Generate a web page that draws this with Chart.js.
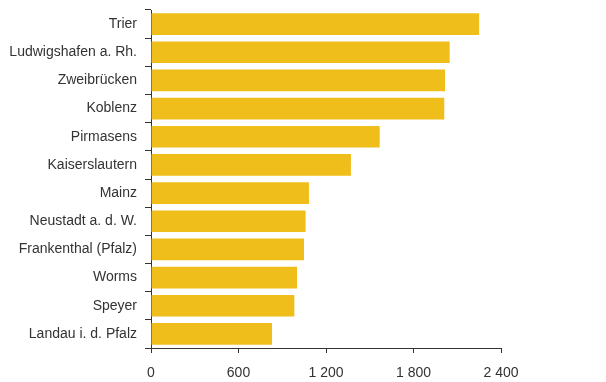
<!DOCTYPE html>
<html>
<head>
<meta charset="utf-8">
<script src="https://cdn.jsdelivr.net/npm/chart.js@4"></script>
<style>
html,body{margin:0;padding:0;background:#fff;}
#wrap{width:606px;height:382px;position:relative;}
</style>
</head>
<body>
<div id="wrap"><canvas id="c" width="606" height="382"></canvas></div>
<script>
const categories = ["Trier","Ludwigshafen a. Rh.","Zweibrücken","Koblenz","Pirmasens","Kaiserslautern","Mainz","Neustadt a. d. W.","Frankenthal (Pfalz)","Worms","Speyer","Landau i. d. Pfalz"];
const values = [2250,2048,2016,2011,1568,1371,1083,1060,1049,1001,983,830];
const xTicks = [0,600,1200,1800,2400];

const textColor = '#333333';
const axisColor = '#333333';

new Chart(document.getElementById('c'), {
  type: 'bar',
  data: {
    labels: categories,
    datasets: [{
      data: values,
      backgroundColor: '#F0BE1A',
      borderWidth: 0,
      categoryPercentage: 1,
      barPercentage: 0.77
    }]
  },
  options: {
    indexAxis: 'y',
    responsive: false,
    animation: false,
    devicePixelRatio: 1,
    layout: { padding: { left: 0, right: 105, top: 10, bottom: 0 } },
    plugins: { legend: { display: false }, tooltip: { enabled: false } },
    scales: {
      x: {
        min: xTicks[0],
        max: xTicks[xTicks.length - 1],
        afterBuildTicks: s => { s.ticks = xTicks.map(v => ({ value: v })); },
        afterFit: s => { s.height = 34; },
        grid: { display: true, drawOnChartArea: false, drawTicks: true, tickLength: 5, color: axisColor, lineWidth: 1 },
        border: { display: true, color: axisColor, width: 1 },
        ticks: {
          color: textColor,
          padding: 12,
          maxRotation: 0,
          font: { family: '"Liberation Sans", Arial, sans-serif', size: 14 },
          callback: v => String(v).replace(/\B(?=(\d{3})+(?!\d))/g, ' ')
        }
      },
      y: {
        afterFit: s => { s.width = 151; s.paddingTop = 0; s.paddingBottom = 0; },
        grid: { display: true, drawOnChartArea: false, drawTicks: true, tickLength: 6, color: axisColor, lineWidth: 1, offset: true },
        border: { display: true, color: axisColor, width: 1 },
        ticks: {
          color: textColor,
          padding: 8,
          font: { family: '"Liberation Sans", Arial, sans-serif', size: 14 }
        }
      }
    }
  }
});
</script>
</body>
</html>
